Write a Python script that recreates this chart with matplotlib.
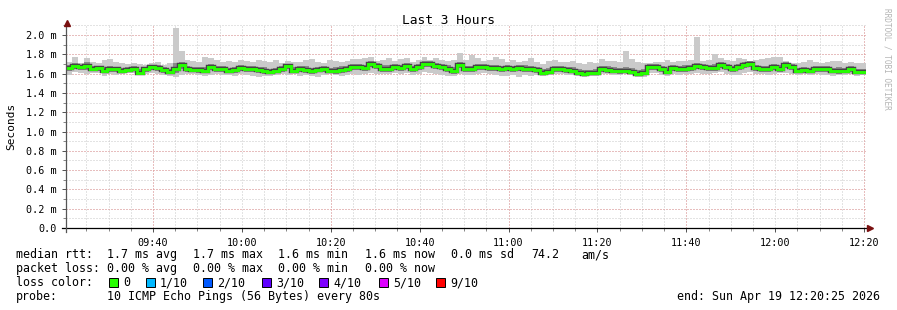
import numpy as np
import matplotlib
matplotlib.use("Agg")
import matplotlib.pyplot as plt
from matplotlib.lines import Line2D

W, H = 897, 310
MONO = "DejaVu Sans Mono"

# median rtt per 80 s step (ms)
med = [1.66, 1.68, 1.67, 1.68, 1.65, 1.66, 1.63, 1.65, 1.65, 1.63, 1.64, 1.65, 1.61, 1.65, 1.67, 1.66, 1.64, 1.62, 1.65, 1.69, 1.65, 1.64, 1.64, 1.63, 1.67, 1.65, 1.65,
       1.63, 1.64, 1.66, 1.65, 1.65, 1.64, 1.63, 1.62, 1.63, 1.65, 1.68, 1.63, 1.65, 1.64, 1.63, 1.64, 1.65, 1.63, 1.63, 1.64, 1.65, 1.67, 1.67, 1.66, 1.70, 1.68, 1.65,
       1.65, 1.67, 1.66, 1.68, 1.65, 1.67, 1.70, 1.70, 1.68, 1.67, 1.65, 1.63, 1.69, 1.65, 1.65, 1.67, 1.67, 1.66, 1.66, 1.65, 1.66, 1.65, 1.66, 1.65, 1.65, 1.64, 1.61,
       1.62, 1.65, 1.65, 1.64, 1.63, 1.61, 1.60, 1.61, 1.61, 1.65, 1.64, 1.63, 1.63, 1.63, 1.62, 1.60, 1.61, 1.67, 1.67, 1.65, 1.62, 1.66, 1.65, 1.65, 1.66, 1.68, 1.67,
       1.66, 1.66, 1.69, 1.67, 1.65, 1.67, 1.69, 1.70, 1.66, 1.65, 1.65, 1.67, 1.65, 1.69, 1.67, 1.63, 1.64, 1.63, 1.65, 1.65, 1.65, 1.63, 1.63, 1.63, 1.65, 1.62, 1.62]

# slowest ping per step
hi = [1.72, 1.77, 1.71, 1.76, 1.72, 1.71, 1.74, 1.75, 1.72, 1.71, 1.70, 1.71, 1.70, 1.69, 1.71, 1.72, 1.69, 1.71, 2.07, 1.83, 1.74, 1.73, 1.72, 1.77, 1.76, 1.74, 1.72,
      1.73, 1.72, 1.74, 1.73, 1.72, 1.74, 1.73, 1.72, 1.74, 1.71, 1.73, 1.72, 1.72, 1.74, 1.75, 1.72, 1.71, 1.74, 1.73, 1.72, 1.73, 1.75, 1.75, 1.76, 1.77, 1.73, 1.74,
      1.76, 1.73, 1.75, 1.76, 1.72, 1.74, 1.77, 1.74, 1.76, 1.74, 1.73, 1.74, 1.81, 1.74, 1.79, 1.76, 1.73, 1.74, 1.77, 1.75, 1.72, 1.74, 1.72, 1.73, 1.76, 1.72, 1.70,
      1.73, 1.74, 1.72, 1.72, 1.73, 1.71, 1.70, 1.72, 1.71, 1.75, 1.73, 1.73, 1.72, 1.83, 1.75, 1.72, 1.71, 1.71, 1.72, 1.72, 1.74, 1.72, 1.73, 1.73, 1.74, 1.98, 1.73,
      1.74, 1.80, 1.76, 1.74, 1.73, 1.76, 1.75, 1.73, 1.74, 1.75, 1.76, 1.77, 1.77, 1.73, 1.71, 1.71, 1.72, 1.74, 1.72, 1.71, 1.72, 1.73, 1.73, 1.71, 1.72, 1.71, 1.71]

# fastest ping per step
lo = [1.59, 1.62, 1.61, 1.60, 1.61, 1.61, 1.58, 1.60, 1.59, 1.60, 1.61, 1.61, 1.59, 1.60, 1.61, 1.60, 1.59, 1.58, 1.57, 1.59, 1.60, 1.60, 1.59, 1.58, 1.59, 1.60, 1.59,
      1.59, 1.58, 1.60, 1.59, 1.58, 1.57, 1.58, 1.58, 1.59, 1.60, 1.59, 1.60, 1.58, 1.59, 1.58, 1.57, 1.59, 1.60, 1.59, 1.58, 1.59, 1.60, 1.59, 1.60, 1.61, 1.60, 1.60,
      1.60, 1.61, 1.60, 1.61, 1.59, 1.60, 1.62, 1.61, 1.60, 1.59, 1.58, 1.58, 1.60, 1.59, 1.59, 1.60, 1.61, 1.60, 1.59, 1.58, 1.58, 1.59, 1.57, 1.59, 1.58, 1.59, 1.58,
      1.59, 1.60, 1.60, 1.59, 1.59, 1.58, 1.57, 1.58, 1.58, 1.60, 1.60, 1.59, 1.59, 1.60, 1.59, 1.57, 1.57, 1.61, 1.61, 1.59, 1.58, 1.60, 1.59, 1.60, 1.60, 1.61, 1.60,
      1.60, 1.61, 1.62, 1.60, 1.59, 1.59, 1.61, 1.62, 1.60, 1.60, 1.59, 1.60, 1.61, 1.61, 1.60, 1.59, 1.60, 1.59, 1.60, 1.59, 1.59, 1.58, 1.59, 1.59, 1.60, 1.58, 1.59]

# inner smoke band (middle pings)
mhi = [1.69, 1.71, 1.69, 1.72, 1.68, 1.68, 1.67, 1.68, 1.67, 1.66, 1.67, 1.68, 1.65, 1.67, 1.69, 1.69, 1.67, 1.65, 1.71, 1.72, 1.68, 1.67, 1.67, 1.67, 1.70, 1.68, 1.68,
       1.66, 1.67, 1.69, 1.68, 1.68, 1.67, 1.67, 1.65, 1.66, 1.68, 1.70, 1.67, 1.68, 1.68, 1.66, 1.67, 1.68, 1.66, 1.67, 1.68, 1.68, 1.70, 1.70, 1.69, 1.73, 1.71, 1.69,
       1.69, 1.70, 1.69, 1.71, 1.68, 1.70, 1.73, 1.73, 1.71, 1.70, 1.69, 1.67, 1.72, 1.68, 1.68, 1.70, 1.70, 1.69, 1.69, 1.68, 1.69, 1.68, 1.69, 1.69, 1.68, 1.67, 1.65,
       1.66, 1.68, 1.68, 1.67, 1.67, 1.65, 1.64, 1.64, 1.65, 1.68, 1.68, 1.67, 1.66, 1.67, 1.66, 1.64, 1.65, 1.70, 1.70, 1.68, 1.66, 1.69, 1.68, 1.69, 1.69, 1.71, 1.70,
       1.69, 1.70, 1.72, 1.70, 1.68, 1.70, 1.72, 1.73, 1.69, 1.68, 1.68, 1.70, 1.69, 1.72, 1.70, 1.66, 1.67, 1.66, 1.68, 1.68, 1.68, 1.66, 1.67, 1.66, 1.68, 1.65, 1.65]
mlo = [1.63, 1.65, 1.64, 1.64, 1.63, 1.63, 1.61, 1.62, 1.62, 1.61, 1.62, 1.63, 1.60, 1.62, 1.64, 1.63, 1.61, 1.60, 1.61, 1.65, 1.62, 1.62, 1.61, 1.61, 1.64, 1.62, 1.62,
       1.61, 1.61, 1.63, 1.62, 1.62, 1.61, 1.60, 1.60, 1.61, 1.62, 1.65, 1.61, 1.62, 1.61, 1.60, 1.62, 1.62, 1.61, 1.60, 1.61, 1.62, 1.64, 1.64, 1.63, 1.67, 1.65, 1.62,
       1.62, 1.64, 1.63, 1.65, 1.62, 1.64, 1.67, 1.67, 1.65, 1.64, 1.62, 1.60, 1.66, 1.62, 1.62, 1.64, 1.64, 1.63, 1.63, 1.62, 1.63, 1.62, 1.63, 1.62, 1.62, 1.61, 1.59,
       1.60, 1.62, 1.62, 1.61, 1.61, 1.59, 1.58, 1.59, 1.59, 1.62, 1.61, 1.61, 1.60, 1.61, 1.60, 1.58, 1.59, 1.64, 1.64, 1.62, 1.60, 1.63, 1.62, 1.62, 1.63, 1.65, 1.64,
       1.63, 1.63, 1.66, 1.64, 1.62, 1.64, 1.66, 1.67, 1.63, 1.62, 1.62, 1.64, 1.62, 1.66, 1.64, 1.61, 1.61, 1.61, 1.62, 1.62, 1.62, 1.61, 1.60, 1.61, 1.62, 1.60, 1.60]

start_min = 9 * 60 + 20 + 25 / 60.0   # 09:20:25
step_min = 80 / 60.0

xtick_min = [580, 600, 620, 640, 660, 680, 700, 720, 740]
xtick_labels = ["09:40", "10:00", "10:20", "10:40", "11:00", "11:20", "11:40", "12:00", "12:20"]
ytick_vals = [0.0, 0.2, 0.4, 0.6, 0.8, 1.0, 1.2, 1.4, 1.6, 1.8, 2.0]
ytick_labels = ["0.0", "0.2 m", "0.4 m", "0.6 m", "0.8 m", "1.0 m", "1.2 m", "1.4 m", "1.6 m", "1.8 m", "2.0 m"]

loss_labels = ["0", "1/10", "2/10", "3/10", "4/10", "5/10", "9/10"]
loss_colors = ["#26ff00", "#00b8ff", "#0059ff", "#5e00ff", "#7e00ff", "#dd00ff", "#ff0000"]

stats_rtt = ["1.7 ms avg", "1.7 ms max", "1.6 ms min", "1.6 ms now", "0.0 ms sd", "74.2", "am/s"]
stats_loss = ["0.00 % avg", "0.00 % max", "0.00 % min", "0.00 % now"]


def fx(x):
    return x / W


def fy(y):
    return 1 - y / H


fig = plt.figure(figsize=(W / 100, H / 100), dpi=100)
fig.patch.set_facecolor("white")
ax = fig.add_axes([fx(66), fy(228), 800 / W, 202.6 / H])
ax.set_facecolor("white")

t_end = start_min + 180
ax.set_xlim(start_min, t_end)
ax.set_ylim(0, 2.1)

# dotted grid
gkw = dict(lw=0.72, ls=(0, (1, 2)))
for m in np.arange(565, 741, 5):
    ax.axvline(m, color="#c8c8c8", zorder=0, **gkw)
for m in [580, 620, 660, 700, 740]:
    ax.axvline(m, color="#eb9a9a", zorder=0.5, **gkw)
for v in np.arange(0.1, 2.15, 0.1):
    ax.axhline(v, color="#c8c8c8", zorder=0, **gkw)
for v in ytick_vals[1:]:
    ax.axhline(v, color="#eb9a9a", zorder=0.5, **gkw)

edges = start_min + np.arange(len(med) + 1) * step_min
ax.stairs(hi, edges, baseline=lo, fill=True, color="#cacaca", lw=0, zorder=2)
ax.stairs(mhi, edges, baseline=mlo, fill=True, color="#8a8a8a", lw=0, zorder=3)
ax.stairs(med, edges, baseline=None, color="#454545", lw=3.2, zorder=4)
ax.stairs(med, edges, baseline=None, color="#26ff00", lw=2.1, zorder=5)

for s in ax.spines.values():
    s.set_visible(False)

ax.set_xticks(xtick_min)
ax.set_xticklabels(xtick_labels, fontfamily=MONO, fontsize=7.3)
ax.set_yticks(ytick_vals)
ax.set_yticklabels(ytick_labels, fontfamily=MONO, fontsize=7.3)
ax.set_xticks(np.arange(565, 741, 5), minor=True)
ax.set_yticks(np.arange(0.1, 2.15, 0.1), minor=True)
ax.tick_params(which="major", length=3, width=0.72, color="#555555", pad=3.5)
ax.tick_params(which="minor", length=2, width=0.72, color="#888888")
ax.tick_params(axis="x", pad=4.5)

# axes with arrows
fig.add_artist(Line2D([fx(62), fx(868)], [fy(228), fy(228)], color="black", lw=0.9))
fig.add_artist(Line2D([fx(66), fx(66)], [fy(232), fy(24)], color="#555555", lw=0.9))
fig.add_artist(Line2D([fx(67)], [fy(22.5)], marker="^", ms=4.5, color="#7a1010", lw=0))
fig.add_artist(Line2D([fx(870)], [fy(228)], marker=">", ms=4.5, color="#7a1010", lw=0))

fig.text(fx(448), fy(24), "Last 3 Hours", fontfamily=MONO, fontsize=9.3, ha="center", va="baseline")
fig.text(fx(11), fy(126), "Seconds", fontfamily=MONO, fontsize=8, rotation=90, ha="center", va="center")
fig.text(fx(887), fy(59), "RRDTOOL / TOBI OETIKER", fontfamily=MONO, fontsize=5.6,
         rotation=270, ha="center", va="center", color="#b4b4b4")

fs = 8.4
kw = dict(fontfamily=MONO, fontsize=fs, va="baseline")
fig.text(fx(16), fy(258), "median rtt:", **kw)
for x, s in zip([107, 193, 278, 365, 451, 531, 581], stats_rtt):
    fig.text(fx(x), fy(258), s, **kw)
fig.text(fx(16), fy(272), "packet loss:", **kw)
for x, s in zip([107, 193, 278, 365], stats_loss):
    fig.text(fx(x), fy(272), s, **kw)
fig.text(fx(16), fy(286), "loss color:", **kw)
for x, s, c in zip([123, 160, 217, 276, 333, 393, 450], loss_labels, loss_colors):
    fig.add_artist(plt.Rectangle((fx(x - 14), fy(287)), 9 / W, 9 / H, facecolor=c,
                                 edgecolor="black", lw=0.7, transform=fig.transFigure))
    fig.text(fx(x), fy(286), s, **kw)
fig.text(fx(16), fy(300), "probe:", **kw)
fig.text(fx(107), fy(300), "10 ICMP Echo Pings (56 Bytes) every 80s", **kw)
fig.text(fx(880), fy(300), "end: Sun Apr 19 12:20:25 2026", ha="right", **kw)

fig.savefig("out.png", dpi=100)
